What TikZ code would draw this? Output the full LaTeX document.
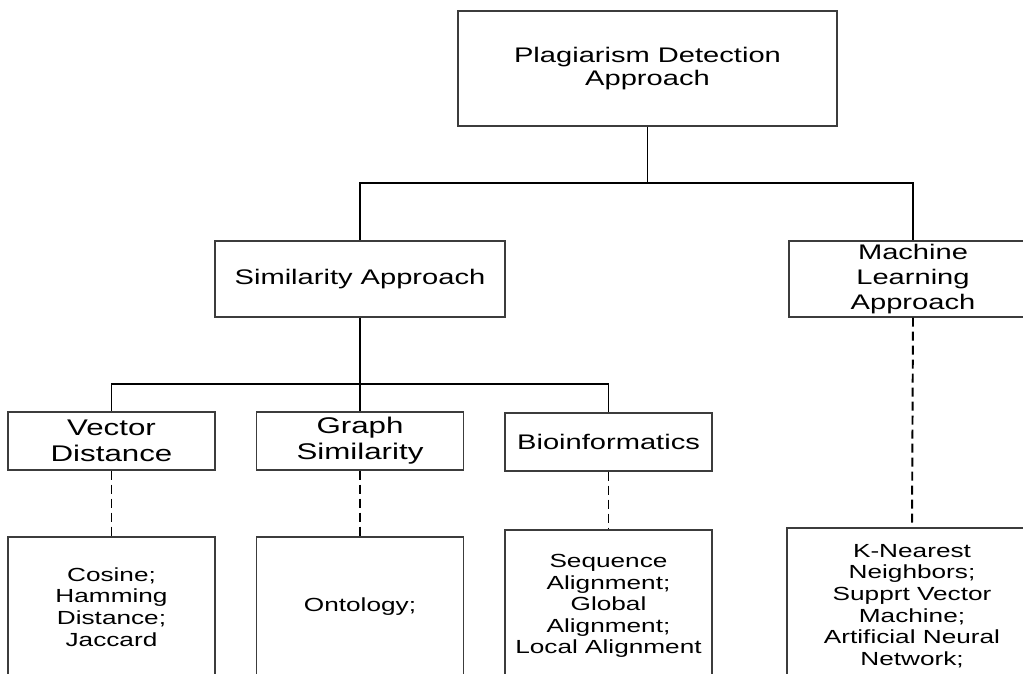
\documentclass[tikz,border=0pt]{standalone}
\usepackage{fontspec}
\setmainfont{Liberation Sans}[FakeStretch=1.38]
\usepackage{xcolor}
\usetikzlibrary{positioning}
\definecolor{boxgray}{RGB}{60,60,60}
\tikzset{
  topnode/.style={rectangle,draw=boxgray,line width=0.6pt,align=center,inner sep=0pt,minimum width=7.58cm,minimum height=2.30cm,font=\fontsize{12}{13.1}\selectfont},
  catnode/.style={rectangle,draw=boxgray,line width=0.6pt,align=center,inner sep=0pt,minimum height=1.52cm,font=\fontsize{12}{14.2}\selectfont},
  subnode/.style={rectangle,draw=boxgray,line width=0.6pt,align=center,inner sep=0pt,minimum width=4.14cm,minimum height=1.16cm,font=\fontsize{12.9}{14.8}\selectfont},
  methnode/.style={rectangle,draw=boxgray,line width=0.6pt,align=center,inner sep=0pt,minimum width=4.14cm,font=\fontsize{10.8}{12.3}\selectfont},
  treeline/.style={draw=black,line width=0.6pt},
  dashlink/.style={draw=black,line width=1.1pt,dash pattern=on 0.18cm off 0.1cm}
}

\begin{document}
\begin{tikzpicture}
  \useasboundingbox (0,0) rectangle (20.46,-13.48);
  \clip (0,0) rectangle (20.46,-13.48);
  % levels
  \node[topnode] (root) at (12.95,-1.37) {Plagiarism Detection\\Approach};
  \node[catnode,minimum width=5.80cm] (sim) at (7.20,-5.58) {Similarity Approach};
  \node[catnode,minimum width=4.96cm] (ml) at (18.26,-5.58) {Machine\\Learning\\Approach};
  \node[subnode] (vd) at (2.23,-8.82) {Vector\\Distance};
  \node[subnode] (gs) at (7.20,-8.82) {Graph\\Similarity};
  \node[subnode,font=\fontsize{12}{13}\selectfont] (bio) at (12.17,-8.84) {Bioinformatics};
  \node[methnode,minimum height=2.80cm] (vdm) at (2.23,-12.14) {Cosine;\\Hamming\\Distance;\\Jaccard};
  \node[methnode,minimum height=2.80cm] (gsm) at (7.20,-12.14) {Ontology;};
  \node[methnode,minimum height=3.04cm] (biom) at (12.17,-12.12) {Sequence\\Alignment;\\Global\\Alignment;\\Local Alignment};
  \node[methnode,minimum width=5.00cm,minimum height=3.12cm] (mlm) at (18.24,-12.12) {K-Nearest\\Neighbors;\\Supprt Vector\\Machine;\\Artificial Neural\\Network;};
  \coordinate (busA) at (0,-3.66);
  \coordinate (busB) at (0,-7.68);
  % tree
  \draw[treeline] (root.south) -- (root.south |- busA) -| (sim.north);
  \draw[treeline] (root.south |- busA) -| (ml.north);
  \draw[treeline] (sim.south) -- (gs.north);
  \draw[treeline] (sim.south |- busB) -| (vd.north);
  \draw[treeline] (sim.south |- busB) -| (bio.north);
  \draw[dashlink] (vd.south) -- (vdm.north);
  \draw[dashlink] (gs.south) -- (gsm.north);
  \draw[dashlink] (bio.south) -- (biom.north);
  \draw[dashlink] (ml.south) -- (mlm.north);
\end{tikzpicture}
\end{document}
